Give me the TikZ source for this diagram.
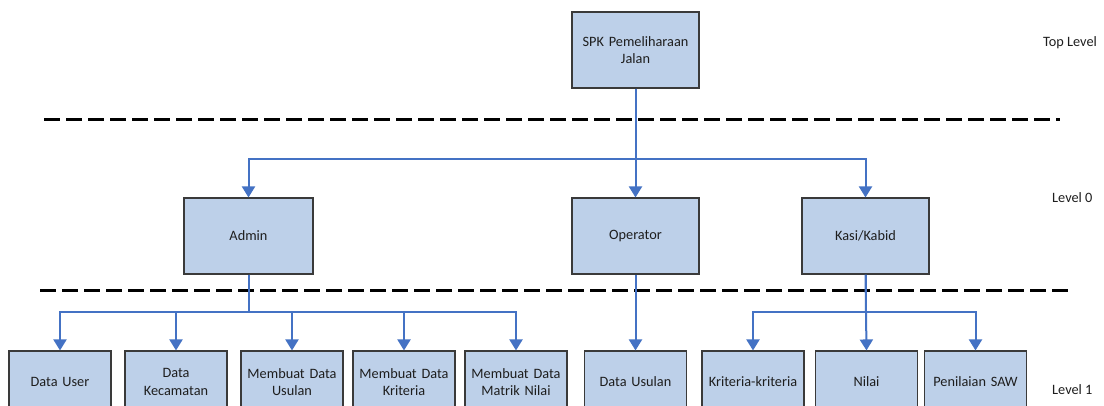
\documentclass[tikz,border=0pt]{standalone}
\usepackage{fontspec}
\setmainfont{Carlito}
\usetikzlibrary{arrows.meta}
\definecolor{boxfill}{HTML}{BDD0E9}
\definecolor{boxline}{HTML}{3A3A3A}
\definecolor{connblue}{HTML}{4472C4}
\definecolor{txt}{HTML}{1E1E1E}
\tikzset{
  unit/.style={draw=boxline, line width=1.1pt, fill=boxfill, text=txt,
    align=center, inner sep=2pt, font=\fontsize{14.3}{17.5}\selectfont},
  bigbox/.style={unit, minimum width=127pt, minimum height=76pt, text width=120pt},
  smallbox/.style={unit, minimum width=102pt, minimum height=62pt, text width=98pt},
  conn/.style={draw=connblue, line width=2pt,
    -{Triangle[length=11pt,width=13pt]}},
  levelline/.style={draw=black, line width=2.2pt, dash pattern=on 16pt off 6pt},
  levellabel/.style={text=txt, font=\fontsize{14.3}{17.5}\selectfont, inner sep=0pt}
}
\begin{document}
\begin{tikzpicture}[x=1pt, y=-1pt]
\clip (0,0) rectangle (1104,405);
\fill[white] (0,0) rectangle (1104,405);

% level separators
\draw[levelline] (44,119.5) -- (1060,119.5);
\draw[levelline] (40,290.5) -- (1069,290.5);

% level names
\node[levellabel, anchor=west] (lvtop) at (1043,43) {Top Level};
\node[levellabel, anchor=west] (lv0) at (1052,198) {Level 0};
\node[levellabel, anchor=west] (lv1) at (1052,390) {Level 1};

% top level
\node[bigbox] (spk) at (635.5,50) {SPK Pemeliharaan\\Jalan};

% level 0
\node[bigbox, minimum width=129pt] (admin) at (248.5,236) {Admin};
\node[bigbox] (oper) at (635.5,236) {Operator};
\node[bigbox] (kasi) at (865.5,236) {Kasi/Kabid};

% level 1
\node[smallbox] (duser)  at (60,382)    {Data User};
\node[smallbox] (dkec)   at (176,382)   {Data\\Kecamatan};
\node[smallbox] (musul)  at (292,382)   {Membuat Data\\Usulan};
\node[smallbox] (mkrit)  at (404,382)   {Membuat Data\\Kriteria};
\node[smallbox] (mmat)   at (516,382)   {Membuat Data\\Matrik Nilai};
\node[smallbox] (dusul)  at (635.5,382) {Data Usulan};
\node[smallbox] (kk)     at (753,382)   {Kriteria-kriteria};
\node[smallbox] (nilai)  at (866.5,382) {Nilai};
\node[smallbox] (saw)    at (975.5,382) {Penilaian SAW};

% branching points
\coordinate (j0) at (635.5,159);
\coordinate (ja) at (248.5,312);
\coordinate (jk) at (865.5,312);

% connectors
\draw[conn] (spk.south) -- (oper.north);
\draw[conn] (spk.south) -- (j0) -| (admin.north);
\draw[conn] (spk.south) -- (j0) -| (kasi.north);

\draw[conn] (admin.south) -- (ja) -| (duser.north);
\draw[conn] (admin.south) -- (ja) -| (dkec.north);
\draw[conn] (admin.south) -- (ja) -| (musul.north);
\draw[conn] (admin.south) -- (ja) -| (mkrit.north);
\draw[conn] (admin.south) -- (ja) -| (mmat.north);

\draw[conn] (oper.south) -- (dusul.north);

\draw[conn] (kasi.south) -- (jk) -| (kk.north);
\draw[conn] (kasi.south) -- (nilai.north);
\draw[conn] (kasi.south) -- (jk) -| (saw.north);
\end{tikzpicture}
\end{document}
